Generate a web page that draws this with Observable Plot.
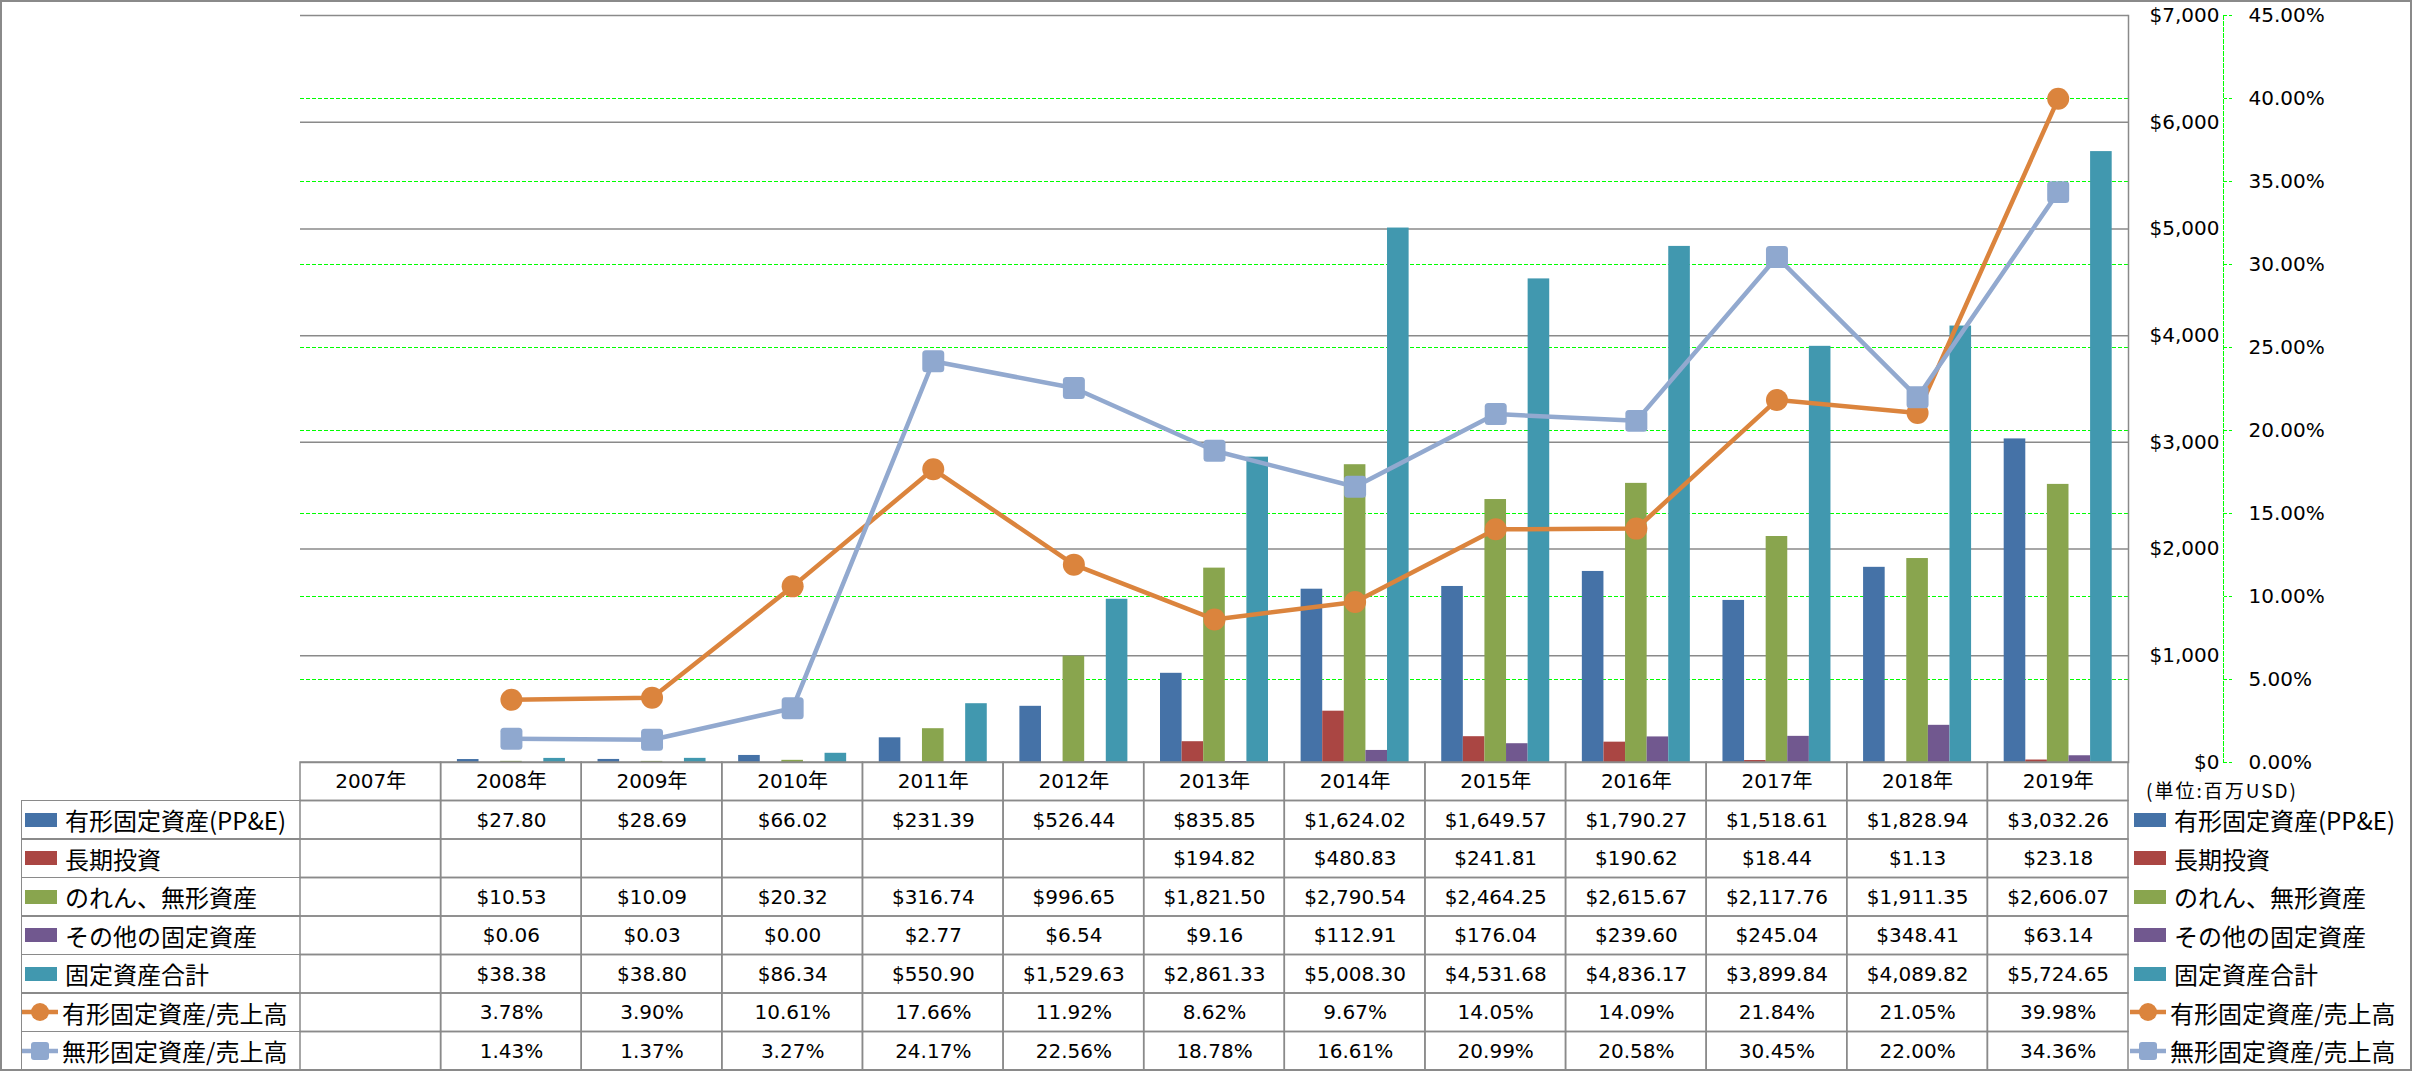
<!DOCTYPE html>
<html>
<head>
<meta charset="utf-8">
<script src="https://cdn.jsdelivr.net/npm/d3@7"></script>
<script src="https://cdn.jsdelivr.net/npm/@observablehq/plot@0.6"></script>
<style>
  html, body { margin: 0; padding: 0; background: #fff; }
  #wrap { position: relative; width: 2412px; height: 1071px; overflow: hidden; background: #fff;
          font-family: "DejaVu Sans", "Noto Sans CJK JP", sans-serif; }
  #wrap > svg, #wrap > .layer { position: absolute; left: 0; }
  .outer { position: absolute; left: 0; top: 0; width: 2412px; height: 1071px; box-sizing: border-box;
           border: 2px solid #8a8a8a; pointer-events: none; }
  .lab { position: absolute; box-sizing: border-box; display: flex; align-items: center;
         font-family: "Noto Sans CJK JP", sans-serif; font-size: 24px; color: #000; white-space: nowrap; }
  .lab .sw { display: inline-block; flex: none; }
  .unit { position: absolute; font-family: "Noto Sans CJK JP", sans-serif; font-size: 19px; letter-spacing: 2px; line-height: 22px; color: #000; white-space: nowrap; }
</style>
</head>
<body>
<div id="wrap"></div>
<script>
// ---------------- data ----------------
const years = ["2007年","2008年","2009年","2010年","2011年","2012年","2013年","2014年","2015年","2016年","2017年","2018年","2019年"];
const ppe      = [null, 27.80, 28.69, 66.02, 231.39, 526.44, 835.85, 1624.02, 1649.57, 1790.27, 1518.61, 1828.94, 3032.26];
const lti      = [null, null, null, null, null, null, 194.82, 480.83, 241.81, 190.62, 18.44, 1.13, 23.18];
const goodwill = [null, 10.53, 10.09, 20.32, 316.74, 996.65, 1821.50, 2790.54, 2464.25, 2615.67, 2117.76, 1911.35, 2606.07];
const other    = [null, 0.06, 0.03, 0.00, 2.77, 6.54, 9.16, 112.91, 176.04, 239.60, 245.04, 348.41, 63.14];
const total    = [null, 38.38, 38.80, 86.34, 550.90, 1529.63, 2861.33, 5008.30, 4531.68, 4836.17, 3899.84, 4089.82, 5724.65];
const ppeRatio = [null, 3.78, 3.90, 10.61, 17.66, 11.92, 8.62, 9.67, 14.05, 14.09, 21.84, 21.05, 39.98];
const intRatio = [null, 1.43, 1.37, 3.27, 24.17, 22.56, 18.78, 16.61, 20.99, 20.58, 30.45, 22.00, 34.36];

const seriesNames = ["有形固定資産(PP&E)", "長期投資", "のれん、無形資産", "その他の固定資産", "固定資産合計", "有形固定資産/売上高", "無形固定資産/売上高"];
const dollarTicks = [0, 1000, 2000, 3000, 4000, 5000, 6000, 7000];
const pctTicks = [0, 5, 10, 15, 20, 25, 30, 35, 40, 45];
const unitLabel = "(単位:百万USD)";

// ---------------- styles ----------------
const barColors = ["#4572A7", "#AA4643", "#89A54E", "#71588F", "#4198AF"];
const lineColors = ["#DB843D", "#92A9CF"];
const markerFill = ["#DB843D", "#8FA8CF"];
const gridGray = "#8a8a8a";
const green = "#00ff00";

const W = 2412, ML = 300, MR = 284, MT = 15, PLOT_BOTTOM = 762;
const yMax = 7000, pMax = 45;
const k = yMax / pMax; // % -> $ space for the secondary axis

const fmtD = d3.format("$,.2f");
const fmtP = d => d.toFixed(2) + "%";
const fmtTick = d3.format("$,");

const barSeries = [ppe, lti, goodwill, other, total];
const ratioSeries = [ppeRatio, intRatio];

// rounded square marker
const roundSquare = {
  draw(ctx, size) {
    const w = Math.sqrt(size), h = w / 2, r = w * 0.16;
    ctx.moveTo(-h + r, -h);
    ctx.lineTo(h - r, -h); ctx.arcTo(h, -h, h, -h + r, r);
    ctx.lineTo(h, h - r); ctx.arcTo(h, h, h - r, h, r);
    ctx.lineTo(-h + r, h); ctx.arcTo(-h, h, -h, h - r, r);
    ctx.lineTo(-h, -h + r); ctx.arcTo(-h, -h, -h + r, -h, r);
    ctx.closePath();
  }
};

const bw = (W - ML - MR) / years.length;
const barW = 21.6;
const off = (bw - barW * 5) / 2;

const xScale = {type: "band", domain: years, padding: 0, round: false, axis: null};

const barMarks = barSeries.map((vals, i) =>
  Plot.barY(years.map((y, j) => ({year: y, v: vals[j]})).filter(d => d.v != null), {
    x: "year", y: "v", fill: barColors[i],
    insetLeft: off + i * barW, insetRight: bw - off - (i + 1) * barW
  })
);

const lineMarks = ratioSeries.flatMap((vals, i) => {
  const data = years.map((y, j) => ({year: y, p: vals[j]})).filter(d => d.p != null);
  return [
    Plot.line(data, {x: "year", y: d => d.p * k, stroke: lineColors[i], strokeWidth: 4.5}),
    Plot.dot(data, i === 0
      ? {x: "year", y: d => d.p * k, r: 11, fill: markerFill[i], symbol: "circle"}
      : {x: "year", y: d => d.p * k, r: 12.4, fill: markerFill[i], symbol: roundSquare})
  ];
});

const chart = Plot.plot({
  width: W, height: 800,
  marginLeft: ML, marginRight: MR, marginTop: MT, marginBottom: 800 - PLOT_BOTTOM,
  style: {background: "transparent", overflow: "visible", fontFamily: "DejaVu Sans, Noto Sans CJK JP, sans-serif", fontSize: "20px", color: "#000"},
  x: xScale,
  y: {domain: [0, yMax], axis: null},
  marks: [
    Plot.gridY(dollarTicks, {stroke: gridGray, strokeOpacity: 1, strokeWidth: 1.5}),
    Plot.gridY(pctTicks.slice(1, -1).map(p => p * k), {stroke: green, strokeOpacity: 1, strokeWidth: 1, strokeDasharray: "4,2"}),
    Plot.frame({anchor: "right", stroke: gridGray, strokeWidth: 1.5}),
    ...barMarks,
    ...lineMarks,
    // primary ($) axis labels, right of the plot
    Plot.text(dollarTicks, {y: d => d, text: d => fmtTick(d), frameAnchor: "right", dx: 91, textAnchor: "end", fontSize: 20, fill: "#000"}),
    // secondary (%) axis
    Plot.frame({anchor: "right", dx: 95, stroke: green, strokeWidth: 1, strokeDasharray: "4,2"}),
    Plot.axisY(pctTicks.map(p => p * k), {anchor: "right", tickSize: 9, dx: 95, tickFormat: () => "", stroke: green, strokeDasharray: "3,2", label: null}),
    Plot.text(pctTicks, {y: d => d * k, text: d => fmtP(d), frameAnchor: "right", dx: 120, textAnchor: "start", fontSize: 20, fill: "#000"})
  ]
});
chart.style.top = "0px";

// ---------------- data table ----------------
const rowKeys = ["header", ...seriesNames];
const allSeries = [...barSeries, ...ratioSeries];
const cells = [];
years.forEach((y, j) => {
  cells.push({year: y, row: "header", text: y});
  allSeries.forEach((vals, i) => {
    const v = vals[j];
    cells.push({year: y, row: seriesNames[i], text: v == null ? "" : (i < 5 ? fmtD(v) : fmtP(v))});
  });
});

const TABLE_TOP = 761, TABLE_H = 310;
const table = Plot.plot({
  width: W, height: TABLE_H,
  marginLeft: ML, marginRight: MR, marginTop: 1, marginBottom: 1,
  style: {background: "transparent", overflow: "visible", fontFamily: "DejaVu Sans, Noto Sans CJK JP, sans-serif", fontSize: "20px", color: "#000"},
  x: xScale,
  y: {type: "band", domain: rowKeys, padding: 0, round: false, axis: null},
  marks: [
    Plot.cell(cells, {x: "year", y: "row", fill: "none", stroke: gridGray, strokeWidth: 1.5}),
    Plot.text(cells, {x: "year", y: "row", text: "text", fontSize: 20, fill: "#000"})
  ]
});
table.style.top = TABLE_TOP + "px";

const wrap = document.getElementById("wrap");
wrap.appendChild(chart);
wrap.appendChild(table);

// ---------------- row labels (left) and legend (right) ----------------
const rowH = (TABLE_H - 2) / rowKeys.length;
const rowTop0 = TABLE_TOP + 1;

function swatch(i) {
  if (i < 5) {
    return `<svg class="sw" width="36" height="14" style="margin-right:4px"><rect x="0" y="0" width="32" height="14" fill="${barColors[i]}"/></svg>`;
  }
  const c = i - 5;
  const mk = c === 0
    ? `<circle cx="18" cy="11" r="9" fill="${markerFill[0]}"/>`
    : `<rect x="9" y="2" width="18" height="18" rx="3" fill="${markerFill[1]}"/>`;
  return `<svg class="sw" width="36" height="22" style="margin-right:4px"><line x1="0" x2="36" y1="11" y2="11" stroke="${lineColors[c]}" stroke-width="4.5"/>${mk}</svg>`;
}

seriesNames.forEach((name, i) => {
  const top = rowTop0 + rowH * (i + 1);
  // left label column with borders
  const d = document.createElement("div");
  d.className = "lab";
  d.style.left = "21px"; d.style.top = (top - 0.75) + "px";
  d.style.width = (ML - 21) + "px"; d.style.height = (rowH + 1.5) + "px";
  d.style.border = "1.5px solid " + gridGray; d.style.borderRight = "none";
  d.style.paddingLeft = (i < 5 ? 3 : 0) + "px";
  d.innerHTML = swatch(i) + `<span>${name}</span>`;
  wrap.appendChild(d);
  // legend on the right
  const g = document.createElement("div");
  g.className = "lab";
  g.style.left = (i < 5 ? 2134 : 2130) + "px"; g.style.top = top + "px";
  g.style.height = rowH + "px";
  g.innerHTML = swatch(i) + `<span>${name}</span>`;
  wrap.appendChild(g);
});

const u = document.createElement("div");
u.className = "unit";
u.style.left = "2146px"; u.style.top = "779px";
u.textContent = unitLabel;
wrap.appendChild(u);

const o = document.createElement("div");
o.className = "outer";
wrap.appendChild(o);
</script>
</body>
</html>
